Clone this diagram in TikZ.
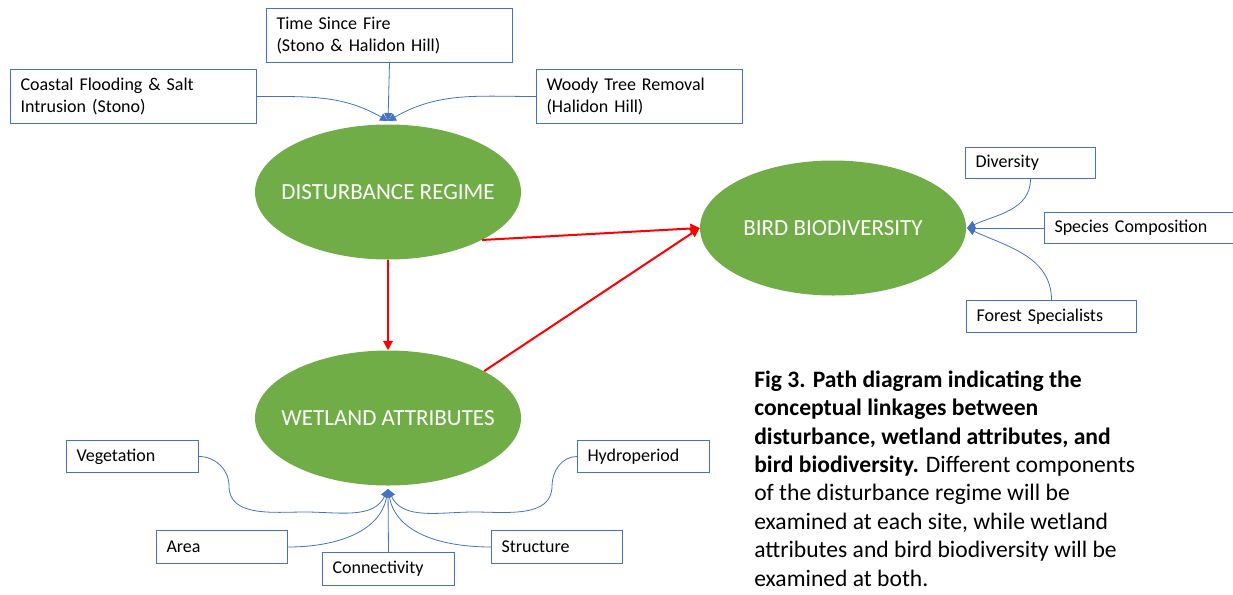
\documentclass[tikz,border=0pt]{standalone}
\usepackage{fontspec}
\setmainfont{Carlito}
\usetikzlibrary{arrows.meta,shapes.geometric}

\definecolor{leafgreen}{HTML}{70AD47}
\definecolor{boxblue}{HTML}{4472C4}
\definecolor{linkred}{HTML}{FF0000}

\tikzset{
    factor/.style={ellipse, fill=leafgreen, text=white, inner sep=0pt,
        minimum width=199.5pt, minimum height=101.25pt,
        font=\fontsize{17.3}{20}\selectfont},
    attr/.style 2 args={draw=boxblue, line width=0.75pt, fill=white,
        anchor=north west, align=left, inner xsep=7.5pt, inner ysep=0pt,
        text width=#1, minimum height=#2,
        font=\fontsize{13.5}{16.5}\selectfont},
    feed/.style={draw=boxblue, line width=0.6pt,
        -{Triangle[length=6pt,width=6pt]}},
    link/.style={draw=linkred, line width=1.5pt,
        -{Triangle[length=7pt,width=7pt]}},
}

\begin{document}
\begin{tikzpicture}[x=0.75pt,y=-0.75pt]
    \useasboundingbox (0,0) rectangle (1233,594);

    % main factors
    \node[factor] (dist) at (388,192) {\makebox[0pt]{DISTURBANCE REGIME}};
    \node[factor] (wet) at (388,418) {\makebox[0pt]{WETLAND ATTRIBUTES}};
    \node[factor] (bird) at (833,228) {\makebox[0pt]{BIRD BIODIVERSITY}};

    % disturbance components
    \node[attr={169.5pt}{40.5pt}] (fire) at (266,8) {Time Since Fire\\(Stono \& Halidon Hill)};
    \node[attr={169.5pt}{40.5pt}] (coast) at (10,69) {Coastal Flooding \& Salt\\Intrusion (Stono)};
    \node[attr={139.5pt}{40.5pt}] (woody) at (536,69) {Woody Tree Removal\\(Halidon Hill)};

    % bird components
    \node[attr={82.5pt}{23.25pt}] (div) at (965,147) {Diversity};
    \node[attr={135pt}{23.25pt}] (spec) at (1044,212) {Species Composition};
    \node[attr={112.5pt}{24pt}] (forest) at (966,300) {Forest Specialists};

    % wetland components
    \node[attr={84pt}{24pt}] (veg) at (66,440) {Vegetation};
    \node[attr={84pt}{24pt}] (hydro) at (577,440) {Hydroperiod};
    \node[attr={83.25pt}{24.75pt}] (area) at (156,530) {Area};
    \node[attr={84pt}{24.75pt}] (conn) at (322,552) {Connectivity};
    \node[attr={83.25pt}{24.75pt}] (struct) at (491,530) {Structure};

    \coordinate (dtop) at (388,121);
    \coordinate (wbot) at (388,489);
    \coordinate (bend) at (967,228);

    % feeding connectors
    \draw[feed] (fire.south) -- (dtop);
    \draw[feed] (coast.east) to[out=0,in=150] (dtop);
    \draw[feed] (woody.west) to[out=180,in=30] (dtop);

    \draw[feed] (spec.west) -- (bend);
    \draw[feed] (div.south) to[out=-90,in=25] (bend);
    \draw[feed] (forest.north) to[out=90,in=-25] (bend);

    \draw[feed] (conn.north) -- (wbot);
    \draw[feed] (area.east) to[out=0,in=-100] (wbot);
    \draw[feed] (struct.west) to[out=180,in=-80] (wbot);
    \draw[feed] (veg.east) to[out=0,in=90] (229,486) to[out=-90,in=180] (305,512) to[out=0,in=-115] (wbot);
    \draw[feed] (hydro.west) to[out=180,in=90] (552,486) to[out=-90,in=0] (474,512) to[out=180,in=-65] (wbot);

    % paths
    \draw[link] (dist.south) -- (wet.north);
    \draw[link] (dist.-27) -- (bird.west);
    \draw[link] (wet.26) -- (bird.west);

    % caption
    \node[anchor=base west, align=left, inner sep=0pt, font=\fontsize{17.7}{21.3}\selectfont] (cap) at (754,586)
        {\textbf{Fig 3. Path diagram indicating the}\\
         \textbf{conceptual linkages between}\\
         \textbf{disturbance, wetland attributes, and}\\
         \textbf{bird biodiversity.} Different components\\
         of the disturbance regime will be\\
         examined at each site, while wetland\\
         attributes and bird biodiversity will be\\
         examined at both.};
\end{tikzpicture}
\end{document}
